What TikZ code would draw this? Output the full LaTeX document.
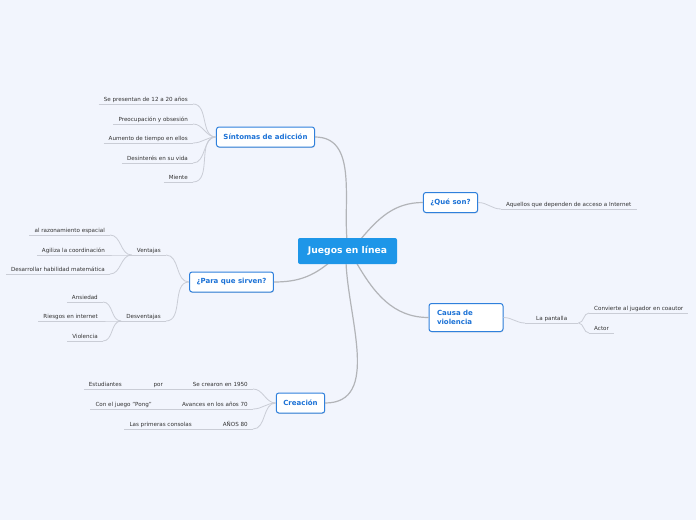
\documentclass[tikz,border=0pt]{standalone}
\usepackage{fontspec}
\setmainfont{DejaVu Sans}
\usepackage{tikz}
\usetikzlibrary{shadows}
\definecolor{bgc}{HTML}{F2F5FD}
\definecolor{rootc}{HTML}{1E96E8}
\definecolor{bluec}{HTML}{2F80DC}
\definecolor{bluet}{HTML}{1C72D6}
\definecolor{char}{HTML}{333333}
\definecolor{trunkc}{HTML}{B2B4B8}
\definecolor{twigc}{HTML}{CACDD6}
\tikzset{
  rootbox/.style={fill=rootc, rounded corners=2pt, minimum width=99pt,
                  minimum height=26pt, text=white, font=\fontsize{9.2}{11}\selectfont\bfseries},
  branchbox/.style={draw=bluec, fill=white, rounded corners=2.5pt, line width=1pt,
                    minimum height=20pt, inner xsep=7pt, text=bluet,
                    font=\fontsize{7}{8.5}\selectfont\bfseries,
                    drop shadow={opacity=0.25, shadow xshift=0.4pt, shadow yshift=-0.8pt}},
  leaf/.style={inner xsep=5pt, inner ysep=2.2pt, text=char, text depth=0.6pt,
               font=\fontsize{5.6}{6.5}\selectfont},
  trunk/.style={draw=trunkc, line width=1.2pt},
  twig/.style={draw=twigc, line width=0.8pt},
}

\begin{document}
\begin{tikzpicture}[x=1pt, y=-1pt]
  \fill[bgc] (0,0) rectangle (696,520);
  \useasboundingbox (0,0) rectangle (696,520);

  % main branches
  \node[branchbox] (sint) at (265.5,137) {Síntomas de adicción};
  \node[branchbox] (que) at (450.5,202.5) {¿Qué son?};
  \node[branchbox] (para) at (231.5,282) {¿Para que sirven?};
  \node[branchbox, minimum width=74pt, minimum height=28pt, text width=58pt,
        align=left, font=\fontsize{7}{9.2}\selectfont\bfseries] (causa) at (466,317.5)
    {Causa de\\violencia};
  \node[branchbox] (crea) at (300.5,403) {Creación};

  \draw[trunk] (347,240) to[out=95,in=0] (sint.east);
  \draw[trunk] (360,240) to[out=50,in=180] (que.west);
  \draw[trunk] (330,262) to[out=220,in=0] (para.east);
  \draw[trunk] (346,262) to[out=-88,in=0] (crea.east);
  \draw[trunk] (356,262) to[out=-60,in=180] (causa.west);

  \node[rootbox] (root) at (347.5,251) {Juegos en línea};

  % Sintomas
  \node[leaf, anchor=south east] (s1) at (193,104) {Se presentan de 12 a 20 años};
  \node[leaf, anchor=south east] (s2) at (193,124) {Preocupación y obsesión};
  \node[leaf, anchor=south east] (s3) at (193,143) {Aumento de tiempo en ellos};
  \node[leaf, anchor=south east] (s4) at (193,163) {Desinterés en su vida};
  \node[leaf, anchor=south east] (s5) at (193,182) {Miente};
  \foreach \n in {s1,s2,s3,s4,s5}
    \draw[twig] (sint.west) to[out=180,in=0] (\n.south east);

  % Que son
  \node[leaf, anchor=south west] (q1) at (501,209) {Aquellos que dependen de acceso a Internet};
  \draw[twig] (que.east) to[out=0,in=180] (q1.south west);

  % Para que sirven
  \node[leaf, anchor=south east] (ven) at (166,255) {Ventajas};
  \node[leaf, anchor=south east] (des) at (166,321) {Desventajas};
  \draw[twig] (para.west) to[out=180,in=0] (ven.south east);
  \draw[twig] (para.west) to[out=180,in=0] (des.south east);
  \node[leaf, anchor=south east] (v1) at (110,235) {al razonamiento espacial};
  \node[leaf, anchor=south east] (v2) at (110,255) {Agiliza la coordinación};
  \node[leaf, anchor=south east] (v3) at (110,274) {Desarrollar habilidad matemática};
  \foreach \n in {v1,v2,v3}
    \draw[twig] (ven.south west) to[out=180,in=0] (\n.south east);
  \node[leaf, anchor=south east] (d1) at (103,302) {Ansiedad};
  \node[leaf, anchor=south east] (d2) at (103,321) {Riesgos en internet};
  \node[leaf, anchor=south east] (d3) at (103,341) {Violencia};
  \foreach \n in {d1,d2,d3}
    \draw[twig] (des.south west) to[out=180,in=0] (\n.south east);

  % Causa de violencia
  \node[leaf, anchor=south west, minimum width=53pt, align=left] (pan) at (525,323) {La pantalla};
  \draw[twig] (causa.east) to[out=0,in=180] (pan.south west);
  \node[leaf, anchor=south west] (p1) at (589,313) {Convierte al jugador en coautor};
  \node[leaf, anchor=south west] (p2) at (589,333) {Actor};
  \foreach \n in {p1,p2}
    \draw[twig] (pan.south east) to[out=0,in=180] (\n.south west);

  % Creacion
  \node[leaf, anchor=south east] (c1) at (253,389) {Se crearon en 1950};
  \node[leaf, anchor=south east] (c1a) at (168,389) {por};
  \node[leaf, anchor=south east] (c1b) at (127,389) {Estudiantes};
  \node[leaf, anchor=south east] (c2) at (253,409) {Avances en los años 70};
  \node[leaf, anchor=south east] (c2a) at (157,409) {Con el juego "Pong"};
  \node[leaf, anchor=south east] (c3) at (253,429) {AÑOS 80};
  \node[leaf, anchor=south east] (c3a) at (197,429) {Las primeras consolas};
  \foreach \n in {c1,c2,c3}
    \draw[twig] (crea.west) to[out=180,in=0] (\n.south east);
  \draw[twig] (c1.south west) -- (c1a.south east);
  \draw[twig] (c1a.south west) -- (c1b.south east);
  \draw[twig] (c2.south west) -- (c2a.south east);
  \draw[twig] (c3.south west) -- (c3a.south east);

  % underlines
  \foreach \n in {s1,s2,s3,s4,s5,q1,ven,des,v1,v2,v3,d1,d2,d3,pan,p1,p2,c1,c1a,c1b,c2,c2a,c3,c3a}
    \draw[twig] (\n.south west) -- (\n.south east);
\end{tikzpicture}
\end{document}
